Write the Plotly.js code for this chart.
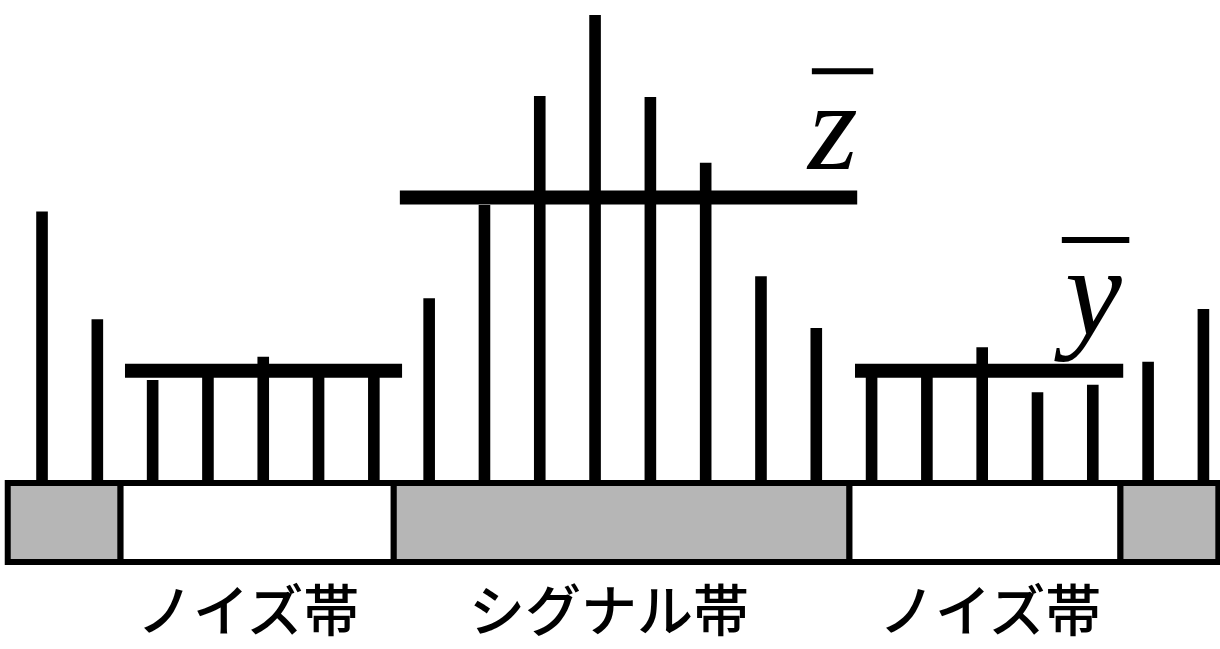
<!DOCTYPE html>
<html>
<head>
<meta charset="utf-8">
<script src="https://cdn.plot.ly/plotly-3.0.1.min.js"></script>
<style>
  html, body { margin: 0; padding: 0; background: #fff; }
  #chart { width: 1220px; height: 649px; }
</style>
</head>
<body>
<div id="chart"></div>
<script>
// Spectrum bins (index) and their amplitudes
const binIndex = [0, 1, 2, 3, 4, 5, 6, 7, 8, 9, 10, 11, 12, 13, 14, 15, 16, 17, 18, 19, 20, 21];
const amplitude = [58, 35, 22, 24, 27, 24, 24, 39.5, 59.4, 82.7, 100, 82.5, 68.4, 44.2, 33.1, 23, 23, 29, 19.4, 21, 25.9, 37.2];

// Band strip under the bins: edges along the bin axis and fill per band
const bandEdges = [-0.62, 1.42, 6.36, 14.6, 19.5, 21.27];
const bandFill = ['#b6b6b6', '#ffffff', '#b6b6b6', '#ffffff', '#b6b6b6'];
const bandDepth = 16.9;

// Mean levels drawn across the bands
const meanStart = [1.5, 6.47, 14.7];
const meanEnd = [6.51, 14.74, 19.55];
const meanLevel = [24, 61, 24];

// Band names
const bandLabels = ['ノイズ帯', 'シグナル帯', 'ノイズ帯'];
const bandLabelX = [3.72, 10.25, 17.14];

// Mean symbols
const meanSymbols = ['z', 'y'];
const meanSymbolX = [14.28, 18.91];
const meanSymbolY = [76.3, 40.8];
const overbarX0 = [13.92, 18.44];
const overbarX1 = [15.03, 19.66];
const overbarY = [88.0, 51.9];

const bandCenters = [], bandWidths = [];
for (let i = 0; i < bandEdges.length - 1; i++) {
  bandCenters.push((bandEdges[i] + bandEdges[i + 1]) / 2);
  bandWidths.push(bandEdges[i + 1] - bandEdges[i]);
}

const traces = [];
traces.push({
  type: 'bar',
  x: bandCenters,
  y: bandCenters.map(() => bandDepth),
  base: bandCenters.map(() => -bandDepth),
  width: bandWidths,
  marker: { color: bandFill, line: { color: '#000', width: 6 } },
  hoverinfo: 'skip',
  showlegend: false
});
traces.push({
  type: 'bar',
  x: binIndex,
  y: amplitude,
  width: 0.21,
  marker: { color: '#000', line: { width: 0 } },
  hoverinfo: 'skip',
  showlegend: false
});
for (let i = 0; i < meanLevel.length; i++) {
  traces.push({
    type: 'scatter',
    mode: 'lines',
    x: [meanStart[i], meanEnd[i]],
    y: [meanLevel[i], meanLevel[i]],
    line: { color: '#000', width: 14 },
    hoverinfo: 'skip',
    showlegend: false
  });
}

const annotations = [];
bandLabels.forEach((t, i) => {
  annotations.push({
    x: bandLabelX[i], y: -26.3, xref: 'x', yref: 'y',
    text: t, showarrow: false, xanchor: 'center', yanchor: 'middle',
    font: { family: 'Noto Sans CJK JP', size: 56, weight: 500, color: '#000' }
  });
});
meanSymbols.forEach((t, i) => {
  annotations.push({
    x: meanSymbolX[i], y: meanSymbolY[i], xref: 'x', yref: 'y',
    text: t, showarrow: false, xanchor: 'center', yanchor: 'middle',
    font: { family: 'Liberation Serif', style: 'italic', size: 128, color: '#000' }
  });
});

const shapes = meanSymbols.map((t, i) => ({
  type: 'line', xref: 'x', yref: 'y',
  x0: overbarX0[i], x1: overbarX1[i], y0: overbarY[i], y1: overbarY[i],
  line: { color: '#000', width: 6 }
}));

const layout = {
  width: 1220, height: 649,
  margin: { l: 0, r: 0, t: 0, b: 0, pad: 0 },
  paper_bgcolor: '#fff', plot_bgcolor: '#fff',
  barmode: 'overlay',
  showlegend: false,
  xaxis: { range: [-0.76, 21.3], visible: false, fixedrange: true },
  yaxis: { range: [-35.47, 103.2], visible: false, fixedrange: true },
  annotations: annotations,
  shapes: shapes
};

Plotly.newPlot('chart', traces, layout, { staticPlot: true });
</script>
</body>
</html>
